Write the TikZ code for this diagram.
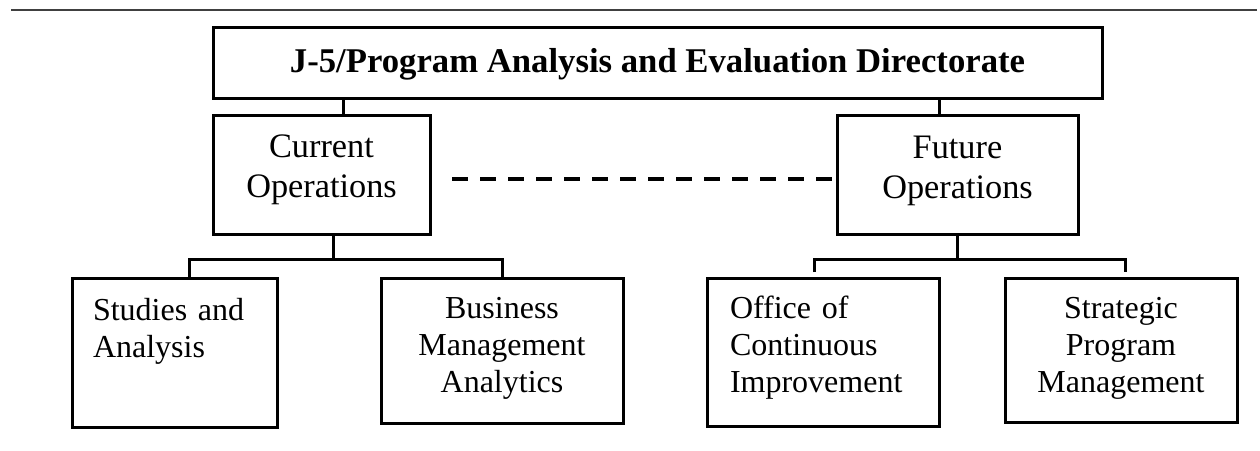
\documentclass[tikz,border=0pt]{standalone}
\usepackage{fontspec}
\setmainfont{Liberation Serif}
\tikzset{
  box/.style={draw=black, line width=3pt, inner sep=0pt, text height=23pt},
  toptext/.style={font=\fontsize{34.7pt}{40pt}\selectfont\bfseries},
  midtext/.style={font=\fontsize{34.3pt}{40.5pt}\selectfont, align=center},
  lowtext/.style={font=\fontsize{32pt}{37pt}\selectfont},
  conn/.style={line width=3pt},
  dashline/.style={line width=3.5pt, dash pattern=on 16pt off 12pt},
  rule/.style={line width=1.6pt, draw=black!75}
}
\begin{document}
\begin{tikzpicture}[x=1pt,y=-1pt]
\useasboundingbox (0,0) rectangle (1260,450);
% top rule
\coordinate (r1) at (11,10);
\coordinate (r2) at (1257,10);
\draw[rule] (r1) -- (r2);

% boxes
\node[box, toptext, minimum width=889pt, minimum height=71pt, text depth=4pt] (top) at (657.5,62.5)
  {J-5/Program Analysis and Evaluation Directorate};
\node[box, midtext, minimum width=217pt, minimum height=119pt, text width=200pt, text depth=58pt] (cur) at (321.5,174.5)
  {Current\\Operations};
\node[box, midtext, minimum width=241pt, minimum height=119pt, text width=220pt, text depth=56pt] (fut) at (957.5,174.5)
  {Future\\Operations};
\node[box, lowtext, align=left, minimum width=205pt, minimum height=149pt, text width=163pt, text depth=88pt] (stud) at (174.5,352.5)
  {Studies and\\Analysis};
\node[box, lowtext, align=center, minimum width=242pt, minimum height=145pt, text width=225pt, text depth=88pt] (bus) at (502,350.5)
  {Business\\Management\\Analytics};
\node[box, lowtext, align=left, minimum width=232pt, minimum height=148pt, text width=186pt, text depth=91pt] (offc) at (823,352)
  {Office of\\Continuous\\Improvement};
\node[box, lowtext, align=center, minimum width=232pt, minimum height=144pt, text width=215pt, text depth=87pt] (strat) at (1121,350)
  {Strategic\\Program\\Management};

% connectors top -> middle
\coordinate (tc) at (343,98);
\coordinate (tf) at (939,98);
\draw[conn] (top.south -| tc) -- (cur.north -| tc);
\draw[conn] (top.south -| tf) -- (fut.north -| tf);

% dashed link
\coordinate (d1) at (452,179);
\draw[dashline] (d1) -- (fut.west |- d1);

% current -> children
\coordinate (cj) at (333,259);
\coordinate (sj) at (189,259);
\coordinate (bj) at (502,259);
\draw[conn] (cur.south -| cj) -- (cj);
\draw[conn] (stud.north -| sj) -- (sj) -- (bj) -- (bus.north -| bj);

% future -> children
\coordinate (fj) at (957,259);
\coordinate (oj) at (814,259);
\coordinate (gj) at (1125,259);
\coordinate (oe) at (814,272);
\coordinate (ge) at (1125,272);
\draw[conn] (fut.south -| fj) -- (fj);
\draw[conn] (oe) -- (oj) -- (gj) -- (ge);
\end{tikzpicture}
\end{document}
